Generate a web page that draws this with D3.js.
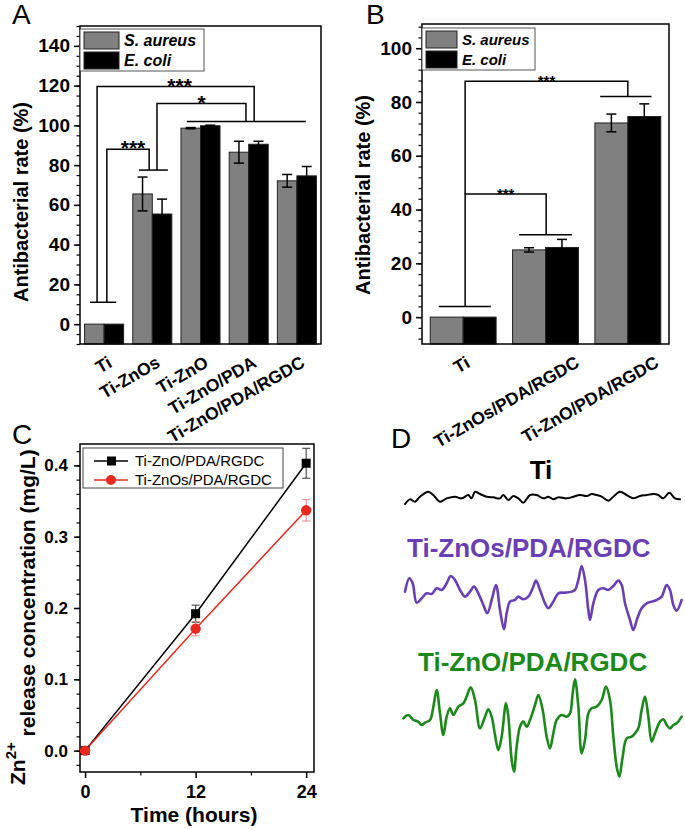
<!DOCTYPE html>
<html><head><meta charset="utf-8">
<script src="https://cdn.jsdelivr.net/npm/d3@7"></script>
<style>body{margin:0;background:#fff}svg{display:block}</style>
</head><body><svg id="c" width="685" height="829"></svg>
<script>
// ---------- Panel A data ----------
const catsA = ["Ti", "Ti-ZnOs", "Ti-ZnO", "Ti-ZnO/PDA", "Ti-ZnO/PDA/RGDC"];
const saureusA = [0, 65.5, 98.6, 86.5, 72.1];
const saureusErrA = [0, 8.5, 0.3, 5.5, 3.2];
const ecoliA = [0, 55.4, 99.8, 90.5, 74.6];
const ecoliErrA = [0, 7.5, 0.3, 1.5, 4.7];
const yTicksA = [0, 20, 40, 60, 80, 100, 120, 140];

// ---------- Panel B data ----------
const catsB = ["Ti", "Ti-ZnOs/PDA/RGDC", "Ti-ZnO/PDA/RGDC"];
const saureusB = [0, 25.0, 72.2];
const saureusErrB = [0, 0.8, 3.3];
const ecoliB = [0, 25.9, 74.6];
const ecoliErrB = [0, 3.0, 4.7];
const yTicksB = [0, 20, 40, 60, 80, 100];

// ---------- Panel C data ----------
const timesC = [0, 12, 24];
const znoC = [0, 0.192, 0.403];
const znoErrC = [0, 0.012, 0.021];
const znosC = [0, 0.171, 0.337];
const znosErrC = [0, 0.010, 0.015];
const seriesC = ["Ti-ZnO/PDA/RGDC", "Ti-ZnOs/PDA/RGDC"];
const xTicksC = [0, 12, 24];
const yTicksC = [0.0, 0.1, 0.2, 0.3, 0.4];

// ---------- Panel D data (EPR-like traces, field a.u. vs amplitude a.u.) ----------
const samplesD = ["Ti", "Ti-ZnOs/PDA/RGDC", "Ti-ZnO/PDA/RGDC"];
const fieldTi = [15,30,45,60,85,100,120,140,165,185,205,215,225,240,260,280,300,310,325,340,355,370,390,410,430,445,460,475,500,520,540,560,575,590,605,625,640,660,680,700,720,740,760,775,790,808,825,840];
const signalTi = [-22,-8,-15,0,15,5,-15,-5,0,-5,5,-5,15,8,0,-2,-5,5,-10,2,-5,-18,5,5,-5,0,-8,-2,-5,0,5,2,8,5,0,-12,0,15,5,-5,2,5,8,5,-5,12,-5,-8];
const fieldZnOs = [15,28,38,50,65,80,95,110,125,140,152,165,180,195,210,222,235,250,262,275,288,300,312,320,330,345,355,370,385,398,408,420,435,445,460,475,495,515,525,535,545,555,565,570,580,595,610,625,640,655,665,675,690,700,712,725,740,755,770,785,800,810,820,830,845];
const signalZnOs = [5,45,30,-28,-15,0,-2,15,10,30,52,40,10,-10,5,20,0,-35,-60,-20,25,-50,-108,-60,-25,-20,-10,-18,-10,15,38,10,-30,-45,-25,0,2,5,10,40,82,40,-50,-80,-30,10,15,10,22,38,25,-30,-80,-110,-75,-45,-30,-25,-20,-10,25,10,-35,-52,-20];
const fieldZnO = [10,25,40,55,65,75,90,100,110,120,130,140,150,160,175,190,200,212,225,240,255,265,275,285,295,305,318,325,335,342,350,360,370,380,390,405,415,428,440,450,460,470,485,500,510,518,525,535,545,555,565,575,590,605,618,630,640,650,658,668,680,695,705,715,725,735,745,755,765,780,790,800,810,820,830,845];
const signalZnO = [5,15,0,-5,-15,-8,0,40,90,20,-45,10,35,15,40,50,70,98,60,-25,10,32,10,-45,-90,-50,50,10,-120,-155,-80,-20,-5,-20,0,45,75,30,-50,-85,-40,0,15,10,20,80,122,40,-100,-60,20,35,40,60,100,60,-50,-140,-170,-110,-55,-50,-40,-25,30,70,10,-65,-40,-5,2,-15,-25,-15,-10,10];

// ---------- drawing ----------
const FONT = "Arial, 'Liberation Sans', Helvetica, sans-serif";
const svg = d3.select("#c");
const GRAY = "#808080";

function styleAxis(g, fs) {
  g.selectAll("path.domain").attr("stroke", "#000").attr("stroke-width", 1.5);
  g.selectAll(".tick line").attr("stroke", "#000").attr("stroke-width", 1.5);
  g.selectAll(".tick text").attr("font-family", FONT).attr("font-size", fs)
    .attr("font-weight", "bold").attr("fill", "#000");
}

function barPanel(o) {
  const g = svg.append("g");
  const x = d3.scaleBand().domain(o.cats).range([o.L, o.R]).paddingInner(o.padIn).paddingOuter(o.padOut);
  const y = d3.scaleLinear().domain(o.yDomain).range([o.B, o.T]);
  const bw = x.bandwidth() / 2;
  g.append("g").attr("transform", `translate(${o.L},0)`)
    .call(d3.axisLeft(y).tickValues(o.minor).tickSize(3.5).tickFormat(""))
    .call(a => { styleAxis(a, 0); a.select(".domain").remove(); a.selectAll(".tick line").attr("stroke-width", 1.2); });
  const ax = g.append("g").attr("transform", `translate(${o.L},0)`)
    .call(d3.axisLeft(y).tickValues(o.ticks).tickSize(6).tickPadding(4).tickSizeOuter(0));
  styleAxis(ax, o.tickFs);
  ax.select(".domain").remove();
  const base = y(o.yDomain[0]);
  const series = [
    {vals: o.sa, errs: o.saErr, fill: GRAY, off: 0},
    {vals: o.ec, errs: o.ecErr, fill: "#000", off: bw}
  ];
  series.forEach(s => {
    g.selectAll(null).data(o.cats).enter().append("rect")
      .attr("x", c => x(c) + s.off).attr("width", bw)
      .attr("y", (c, i) => y(s.vals[i]))
      .attr("height", (c, i) => base - y(s.vals[i]))
      .attr("fill", s.fill).attr("stroke", "#222").attr("stroke-width", 1);
  });
  g.append("rect").attr("x", o.L).attr("y", o.T).attr("width", o.R - o.L).attr("height", o.B - o.T)
    .attr("fill", "none").attr("stroke", "#000").attr("stroke-width", 1.5);
  series.forEach(s => {
    o.cats.forEach((c, i) => {
      if (!s.errs[i]) return;
      const cx = x(c) + s.off + bw / 2, y1 = y(s.vals[i] + s.errs[i]), y2 = y(s.vals[i] - s.errs[i]);
      g.append("line").attr("x1", cx).attr("x2", cx).attr("y1", y1).attr("y2", y2).attr("stroke", "#000").attr("stroke-width", 1.5);
      [y1, y2].forEach(yy => g.append("line").attr("x1", cx - o.cap).attr("x2", cx + o.cap).attr("y1", yy).attr("y2", yy).attr("stroke", "#000").attr("stroke-width", 1.5));
    });
  });
  o.brackets.forEach(b => {
    const pts = b.pts.map(p => [x(p[0]) + p[1] * x.bandwidth(), y(p[2])]);
    g.append("path").attr("d", d3.line()(pts)).attr("fill", "none").attr("stroke", "#000").attr("stroke-width", 1.5);
    if (b.label) {
      const a = pts[b.seg], c = pts[b.seg + 1];
      g.append("text").attr("x", (a[0] + c[0]) / 2 + (b.dx || 0)).attr("y", a[1] + o.starDy)
        .attr("text-anchor", "middle").attr("font-family", FONT).attr("font-size", o.starFs)
        .attr("font-weight", "bold").text(b.label);
    }
  });
  o.cats.forEach((c, i) => {
    g.append("text").attr("transform", `translate(${x(c) + x.bandwidth() / 2 + o.lblDx[i]},${o.lblY}) rotate(-30)`)
      .attr("text-anchor", "end").attr("font-family", FONT).attr("font-size", 17.5).attr("font-weight", "bold").text(c);
  });
  const lg = o.legend;
  g.append("rect").attr("x", lg.x).attr("y", lg.y).attr("width", lg.w).attr("height", lg.h)
    .attr("fill", "#fff").attr("stroke", "#555").attr("stroke-width", 1);
  [["S. aureus", GRAY], ["E. coli", "#000"]].forEach((e, i) => {
    g.append("rect").attr("x", lg.x + 4).attr("y", lg.y + 3 + i * lg.row).attr("width", lg.sw).attr("height", lg.row - 3)
      .attr("fill", e[1]).attr("stroke", "#222").attr("stroke-width", 1);
    g.append("text").attr("x", lg.x + lg.sw + 9).attr("y", lg.y + 3 + i * lg.row + lg.row - 6)
      .attr("font-family", FONT).attr("font-size", lg.fs).attr("font-weight", "bold").attr("font-style", "italic").text(e[0]);
  });
  g.append("text").attr("transform", `translate(${o.ylabX},${o.ylabY}) rotate(-90)`)
    .attr("text-anchor", "middle").attr("font-family", FONT).attr("font-size", 20).attr("font-weight", "bold")
    .text("Antibacterial rate (%)");
  return {x, y};
}

barPanel({
  cats: catsA, sa: saureusA, saErr: saureusErrA, ec: ecoliA, ecErr: ecoliErrA,
  L: 80, R: 321, T: 26, B: 344, padIn: 0.19, padOut: 0.095, yDomain: [-10, 150],
  ticks: yTicksA, minor: d3.range(-10, 151, 5), tickFs: 19, cap: 5,
  starFs: 21, starDy: 6,
  brackets: [
    {pts: [["Ti", 0.14, 11], ["Ti", 0.81, 11]]},
    {pts: [["Ti-ZnOs", 0.16, 77.5], ["Ti-ZnOs", 0.90, 77.5]]},
    {pts: [["Ti-ZnO", 0.15, 102], ["Ti-ZnO/PDA/RGDC", 0.73, 102]]},
    {pts: [["Ti", 0.57, 11], ["Ti", 0.57, 88], ["Ti-ZnOs", 0.42, 88], ["Ti-ZnOs", 0.42, 77.5]], label: "***", seg: 1, dx: 5},
    {pts: [["Ti-ZnOs", 0.62, 77.5], ["Ti-ZnOs", 0.62, 111], ["Ti-ZnO/PDA", 0.43, 111], ["Ti-ZnO/PDA", 0.43, 102]], label: "*", seg: 1, dx: 0},
    {pts: [["Ti", 0.32, 11], ["Ti", 0.32, 119.5], ["Ti-ZnO/PDA", 0.64, 119.5], ["Ti-ZnO/PDA", 0.64, 102]], label: "***", seg: 1, dx: 4}
  ],
  lblDx: [9, 9, 9, 9, 9], lblY: 366,
  legend: {x: 80, y: 29, w: 124, h: 42, sw: 35, row: 20, fs: 16},
  ylabX: 28, ylabY: 202
});

barPanel({
  cats: catsB, sa: saureusB, saErr: saureusErrB, ec: ecoliB, ecErr: ecoliErrB,
  L: 422, R: 669, T: 24, B: 344, padIn: 0.2, padOut: 0.1, yDomain: [-10, 109],
  ticks: yTicksB, minor: d3.range(-8, 109, 4), tickFs: 19, cap: 5,
  starFs: 15, starDy: 5,
  brackets: [
    {pts: [["Ti", 0.13, 3.9], ["Ti", 0.92, 3.9]]},
    {pts: [["Ti-ZnOs/PDA/RGDC", 0.10, 30.6], ["Ti-ZnOs/PDA/RGDC", 0.90, 30.6]]},
    {pts: [["Ti-ZnO/PDA/RGDC", 0.08, 82], ["Ti-ZnO/PDA/RGDC", 0.86, 82]]},
    {pts: [["Ti", 0.53, 3.9], ["Ti", 0.53, 45.8], ["Ti-ZnOs/PDA/RGDC", 0.51, 45.8], ["Ti-ZnOs/PDA/RGDC", 0.51, 30.6]], label: "***", seg: 1},
    {pts: [["Ti", 0.53, 45.8], ["Ti", 0.53, 87.7], ["Ti-ZnO/PDA/RGDC", 0.50, 87.7], ["Ti-ZnO/PDA/RGDC", 0.50, 82]], label: "***", seg: 1}
  ],
  lblDx: [8, 35, 32], lblY: 366,
  legend: {x: 422, y: 28, w: 113, h: 42, sw: 31, row: 20, fs: 15},
  ylabX: 370, ylabY: 195
});

// ---------- Panel C ----------
(function () {
  const L = 80, R = 314, T = 444, B = 772;
  const g = svg.append("g");
  const x = d3.scaleLinear().domain([-0.55, 24.85]).range([L, R]);
  const y = d3.scaleLinear().domain([-0.03, 0.43]).range([B, T]);
  g.append("g").attr("transform", `translate(${L},0)`)
    .call(d3.axisLeft(y).tickValues(d3.range(-0.02, 0.43, 0.02)).tickSize(3.5).tickFormat(""))
    .call(a => { styleAxis(a, 0); a.select(".domain").remove(); a.selectAll(".tick line").attr("stroke-width", 1.2); });
  const ay = g.append("g").attr("transform", `translate(${L},0)`)
    .call(d3.axisLeft(y).tickValues(yTicksC).tickSize(6).tickPadding(6).tickFormat(d3.format(".1f")));
  styleAxis(ay, 17); ay.select(".domain").remove();
  g.append("g").attr("transform", `translate(0,${B})`)
    .call(d3.axisBottom(x).tickValues([6, 18]).tickSize(3.5).tickFormat(""))
    .call(a => { styleAxis(a, 0); a.select(".domain").remove(); a.selectAll(".tick line").attr("stroke-width", 1.2); });
  const ax = g.append("g").attr("transform", `translate(0,${B})`)
    .call(d3.axisBottom(x).tickValues(xTicksC).tickSize(6).tickPadding(7));
  styleAxis(ax, 18); ax.select(".domain").remove();
  g.append("rect").attr("x", L).attr("y", T).attr("width", R - L).attr("height", B - T)
    .attr("fill", "none").attr("stroke", "#000").attr("stroke-width", 1.5);

  const sets = [
    {vals: znoC, errs: znoErrC, col: "#000", ecol: "#333", shape: "square"},
    {vals: znosC, errs: znosErrC, col: "#e8291f", ecol: "#e88080", shape: "circle"}
  ];
  sets.forEach(s => {
    timesC.forEach((t, i) => {
      if (!s.errs[i]) return;
      const cx = x(t), y1 = y(s.vals[i] + s.errs[i]), y2 = y(s.vals[i] - s.errs[i]);
      g.append("line").attr("x1", cx).attr("x2", cx).attr("y1", y1).attr("y2", y2).attr("stroke", s.ecol).attr("stroke-width", 1);
      [y1, y2].forEach(yy => g.append("line").attr("x1", cx - 4).attr("x2", cx + 4).attr("y1", yy).attr("y2", yy).attr("stroke", s.ecol).attr("stroke-width", 1));
    });
  });
  sets.forEach(s => {
    g.append("path").attr("d", d3.line().x((d, i) => x(timesC[i])).y(d => y(d))(s.vals))
      .attr("fill", "none").attr("stroke", s.col).attr("stroke-width", 1.5);
  });
  sets.forEach(s => {
    timesC.forEach((t, i) => {
      if (s.shape === "square") g.append("rect").attr("x", x(t) - 4.5).attr("y", y(s.vals[i]) - 4.5).attr("width", 9).attr("height", 9).attr("fill", s.col);
      else g.append("circle").attr("cx", x(t)).attr("cy", y(s.vals[i])).attr("r", 5.2).attr("fill", s.col);
    });
  });
  g.append("rect").attr("x", 83).attr("y", 448).attr("width", 200).attr("height", 40).attr("fill", "#fff").attr("stroke", "#444").attr("stroke-width", 1);
  sets.forEach((s, i) => {
    const yy = 461 + i * 19;
    g.append("line").attr("x1", 94).attr("x2", 128).attr("y1", yy).attr("y2", yy).attr("stroke", s.col).attr("stroke-width", 1.5);
    if (s.shape === "square") g.append("rect").attr("x", 107).attr("y", yy - 4.5).attr("width", 9).attr("height", 9).attr("fill", s.col);
    else g.append("circle").attr("cx", 111).attr("cy", yy).attr("r", 5).attr("fill", s.col);
    g.append("text").attr("x", 135).attr("y", yy + 5).attr("font-family", FONT).attr("font-size", 15).text(seriesC[i]);
  });
  g.append("text").attr("x", 194).attr("y", 822).attr("text-anchor", "middle")
    .attr("font-family", FONT).attr("font-size", 21).attr("font-weight", "bold").text("Time (hours)");
  const yl = g.append("text").attr("transform", "translate(35,785) rotate(-90)")
    .attr("font-family", FONT).attr("font-size", 21).attr("font-weight", "bold");
  yl.append("tspan").attr("dy", -10).text("Zn");
  yl.append("tspan").attr("dy", -9).attr("font-size", 15).text("2+");
  yl.append("tspan").attr("dy", 19).text(" release concentration (mg/L)");
})();

// ---------- Panel D ----------
(function () {
  const g = svg.append("g");
  const x = d3.scaleLinear().domain([0, 855]).range([400, 685]);
  const amp = d3.scaleLinear().domain([-300, 300]).range([100, -100]);
  const traces = [
    {f: fieldTi, s: signalTi, col: "#000", c: 496.7, w: 2, label: samplesD[0], lx: 541, ly: 479, anchor: "middle"},
    {f: fieldZnOs, s: signalZnOs, col: "#6a3fb5", c: 593.3, w: 2.6, label: samplesD[1], lx: 407, ly: 557, anchor: "start"},
    {f: fieldZnO, s: signalZnO, col: "#1b8a1b", c: 720, w: 2.6, label: samplesD[2], lx: 418, ly: 671, anchor: "start"}
  ];
  traces.forEach(t => {
    const line = d3.line().x((d, i) => x(t.f[i])).y(d => t.c + amp(d)).curve(d3.curveCatmullRom.alpha(0.5));
    g.append("path").attr("d", line(t.s)).attr("fill", "none").attr("stroke", t.col).attr("stroke-width", t.w)
      .attr("stroke-linejoin", "round").attr("stroke-linecap", "round");
    g.append("text").attr("x", t.lx).attr("y", t.ly).attr("text-anchor", t.anchor).attr("fill", t.col)
      .attr("font-family", FONT).attr("font-size", 26).attr("font-weight", "bold").text(t.label);
  });
})();

[["A", 12, 24], ["B", 366, 24], ["C", 12, 444], ["D", 391, 448]].forEach(p => {
  svg.append("text").attr("x", p[1]).attr("y", p[2]).attr("font-family", FONT).attr("font-size", 28).text(p[0]);
});
</script></body></html>
